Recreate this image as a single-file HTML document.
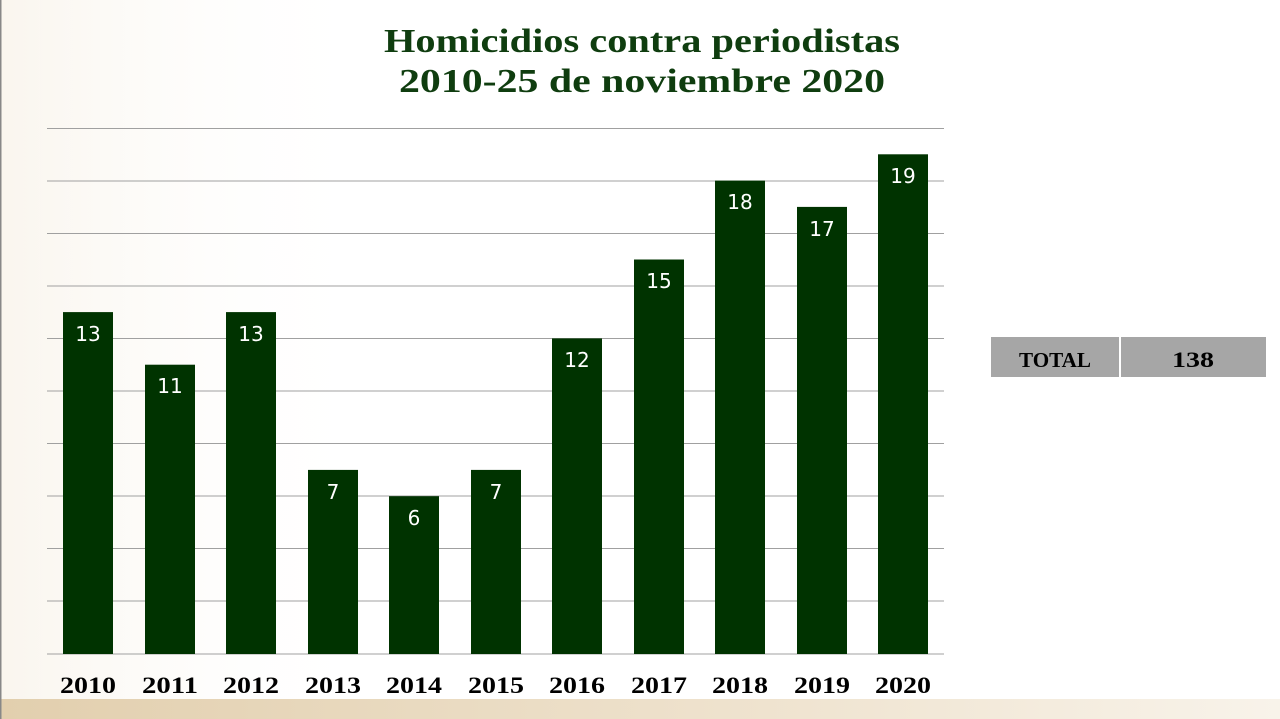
<!DOCTYPE html>
<html><head><meta charset="utf-8"><style>
html,body{margin:0;padding:0;background:#fff;}
svg{display:block;}
</style></head><body>
<svg width="1280" height="719" viewBox="0 0 1280 719" xmlns="http://www.w3.org/2000/svg" font-family="Liberation Serif, serif">
<defs>
<linearGradient id="bg" x1="0" y1="0" x2="1" y2="0">
<stop offset="0" stop-color="#f6efe3"/><stop offset="1" stop-color="#ffffff" stop-opacity="0"/>
</linearGradient>
<linearGradient id="gold" x1="0" y1="0" x2="1" y2="0">
<stop offset="0" stop-color="#e2cfae"/><stop offset="0.6" stop-color="#efe3cf"/><stop offset="1" stop-color="#f8f3ea"/>
</linearGradient>
</defs>
<rect width="1280" height="719" fill="#fff"/>
<rect width="380" height="700" fill="url(#bg)" opacity="0.6"/>
<rect x="0" y="699" width="1280" height="20" fill="url(#gold)"/>
<rect x="0" y="0" width="1.5" height="719" fill="#888"/>
<text x="642" y="52" text-anchor="middle" font-size="34" font-weight="bold" fill="#0f3d0f" textLength="516" lengthAdjust="spacingAndGlyphs">Homicidios contra periodistas</text>
<text x="642" y="92" text-anchor="middle" font-size="34" font-weight="bold" fill="#0f3d0f" textLength="486" lengthAdjust="spacingAndGlyphs">2010-25 de noviembre 2020</text>
<g stroke="#a0a0a0" stroke-width="1">
<line x1="47" x2="944" y1="128.5" y2="128.5"/><line x1="47" x2="944" y1="181" y2="181"/>
<line x1="47" x2="944" y1="233.5" y2="233.5"/><line x1="47" x2="944" y1="286" y2="286"/>
<line x1="47" x2="944" y1="338.5" y2="338.5"/><line x1="47" x2="944" y1="391" y2="391"/>
<line x1="47" x2="944" y1="443.5" y2="443.5"/><line x1="47" x2="944" y1="496" y2="496"/>
<line x1="47" x2="944" y1="548.5" y2="548.5"/><line x1="47" x2="944" y1="601" y2="601"/>
<line x1="47" x2="944" y1="654" y2="654"/>
</g>
<g fill="#003300">
<rect x="63" y="312.1" width="50" height="341.9"/>
<rect x="145" y="364.7" width="50" height="289.3"/>
<rect x="226" y="312.1" width="50" height="341.9"/>
<rect x="308" y="469.9" width="50" height="184.1"/>
<rect x="389" y="496.2" width="50" height="157.8"/>
<rect x="471" y="469.9" width="50" height="184.1"/>
<rect x="552" y="338.4" width="50" height="315.6"/>
<rect x="634" y="259.5" width="50" height="394.5"/>
<rect x="715" y="180.6" width="50" height="473.4"/>
<rect x="797" y="206.9" width="50" height="447.1"/>
<rect x="878" y="154.3" width="50" height="499.7"/>
</g>
<g fill="#fff" font-size="20" text-anchor="middle" font-family="DejaVu Sans, sans-serif">
<text x="88" y="341">13</text><text x="170" y="393">11</text><text x="251" y="341">13</text>
<text x="333" y="499">7</text><text x="414" y="525">6</text><text x="496" y="499">7</text>
<text x="577" y="367">12</text><text x="659" y="288">15</text><text x="740" y="209">18</text>
<text x="822" y="236">17</text><text x="903" y="183">19</text>
</g>
<g fill="#000" font-size="23" font-weight="bold" text-anchor="middle">
<text x="88" y="693" textLength="56" lengthAdjust="spacingAndGlyphs">2010</text><text x="170" y="693" textLength="56" lengthAdjust="spacingAndGlyphs">2011</text><text x="251" y="693" textLength="56" lengthAdjust="spacingAndGlyphs">2012</text>
<text x="333" y="693" textLength="56" lengthAdjust="spacingAndGlyphs">2013</text><text x="414" y="693" textLength="56" lengthAdjust="spacingAndGlyphs">2014</text><text x="496" y="693" textLength="56" lengthAdjust="spacingAndGlyphs">2015</text>
<text x="577" y="693" textLength="56" lengthAdjust="spacingAndGlyphs">2016</text><text x="659" y="693" textLength="56" lengthAdjust="spacingAndGlyphs">2017</text><text x="740" y="693" textLength="56" lengthAdjust="spacingAndGlyphs">2018</text>
<text x="822" y="693" textLength="56" lengthAdjust="spacingAndGlyphs">2019</text><text x="903" y="693" textLength="56" lengthAdjust="spacingAndGlyphs">2020</text>
</g>
<rect x="991" y="337" width="128" height="40" fill="#a6a6a6"/>
<rect x="1121" y="337" width="145" height="40" fill="#a6a6a6"/>
<text x="1055" y="367" text-anchor="middle" font-size="21" font-weight="bold" textLength="72" lengthAdjust="spacingAndGlyphs">TOTAL</text>
<text x="1193" y="367" text-anchor="middle" font-size="22" font-weight="bold" textLength="42" lengthAdjust="spacingAndGlyphs">138</text>
</svg>
</body></html>
